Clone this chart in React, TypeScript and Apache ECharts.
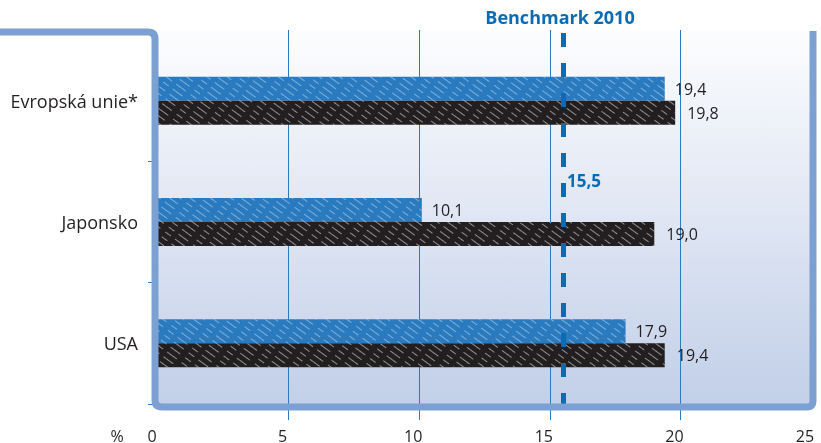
import React, { useEffect, useRef } from "react";
import * as echarts from "echarts";

const CATEGORIES = ["Evropská unie*", "Japonsko", "USA"];
const SERIES_BLUE = [19.4, 10.1, 17.9];
const SERIES_BLACK = [19.8, 19.0, 19.4];
const BENCHMARK = 15.5;
const X_MIN = 0;
const X_MAX = 25;
const X_INTERVAL = 5;

const fmt = (v: number) => v.toFixed(1).replace(".", ",");

echarts.graphic.registerShape(
  "frameShape",
  echarts.graphic.extendPath(
    "M0 32 L148 32 Q155 32 155 39 L155 400 Q155 407 162 407 L807 407 Q813 407 813 401 L813 31",
    {}
  )
);

const FONT = "'Open Sans', 'Noto Sans', sans-serif";
const TEXT = "#231f20";
const BLUE = "#2a7abf";
const DARK_BLUE = "#0a6cb5";

export default function App() {
  const ref = useRef<HTMLDivElement>(null);
  useEffect(() => {
    if (!ref.current) return;
    document.body.style.margin = "0";
    const chart = echarts.init(ref.current, null, { renderer: "svg" });
    const hatch = (color: string) => ({
      symbol: "rect",
      symbolSize: 1,
      color,
      dashArrayX: [[7, 5, 12, 6]],
      dashArrayY: [1, 5],
      rotation: Math.PI / 5,
    });
    chart.setOption({
      animation: false,
      textStyle: { fontFamily: FONT },
      grid: [
        { left: 158, right: 10, top: 40, bottom: 39, outerBoundsMode: "none", containLabel: false },
        { left: 158, right: 10, top: 30, bottom: 23, outerBoundsMode: "none", containLabel: false },
      ],
      xAxis: [
        { type: "value", gridIndex: 0, min: X_MIN, max: X_MAX, interval: X_INTERVAL, show: false },
        {
          type: "value",
          gridIndex: 1,
          min: X_MIN,
          max: X_MAX,
          interval: X_INTERVAL,
          axisLine: { show: false },
          axisTick: { show: false },
          splitLine: {
            show: true,
            showMinLine: false,
            showMaxLine: false,
            lineStyle: { color: BLUE, width: 1 },
          },
          axisLabel: {
            fontSize: 16,
            lineHeight: 14,
            color: TEXT,
            fontFamily: FONT,
            margin: 9,
            padding: [0, 12, 0, 0],
          },
        },
      ],
      yAxis: [
        {
          type: "category",
          gridIndex: 0,
          inverse: true,
          data: CATEGORIES,
          axisLine: { show: false },
          axisTick: {
            show: true,
            length: 10,
            interval: (i: number) => i > 0,
            lineStyle: { color: BLUE, width: 1 },
          },
          axisLabel: { fontSize: 18, color: TEXT, fontFamily: FONT, margin: 20, interval: 0 },
        },
        { type: "value", gridIndex: 1, min: 0, max: 1, show: false },
      ],
      series: [
        {
          name: "modrá",
          type: "bar",
          xAxisIndex: 0,
          yAxisIndex: 0,
          data: SERIES_BLUE,
          barWidth: 24,
          barGap: "0%",
          itemStyle: { color: BLUE, decal: hatch("rgba(255,255,255,0.4)") },
          label: {
            show: true,
            position: "right",
            distance: 10,
            fontSize: 16,
            color: TEXT,
            fontFamily: FONT,
            formatter: (p: any) => fmt(p.value),
          },
          z: 3,
        },
        {
          name: "černá",
          type: "bar",
          xAxisIndex: 0,
          yAxisIndex: 0,
          data: SERIES_BLACK,
          barWidth: 24,
          barGap: "0%",
          itemStyle: { color: TEXT, decal: hatch("rgba(255,255,255,0.5)") },
          label: {
            show: true,
            position: "right",
            distance: 12,
            fontSize: 16,
            color: TEXT,
            fontFamily: FONT,
            formatter: (p: any) => fmt(p.value),
          },
          z: 3,
        },
        {
          name: "benchmark",
          type: "scatter",
          xAxisIndex: 1,
          yAxisIndex: 1,
          data: [[BENCHMARK, 0.5]],
          symbolSize: 0,
          silent: true,
          z: 5,
          markLine: {
            silent: true,
            symbol: "none",
            label: { show: false },
            lineStyle: { type: [14, 16], width: 5, color: DARK_BLUE },
            data: [[{ coord: [BENCHMARK, 0.992] }, { coord: [BENCHMARK, 0.038] }]],
          },
        },
      ],
      graphic: [
        {
          type: "rect",
          z: -10,
          shape: { x: 155, y: 30, width: 658, height: 377 },
          style: {
            fill: new echarts.graphic.LinearGradient(0, 0, 0, 1, [
              { offset: 0, color: "#fcfdfe" },
              { offset: 0.45, color: "#e2e8f4" },
              { offset: 1, color: "#c1cfe8" },
            ]),
          },
        },
        {
          type: "frameShape",
          z: 100,
          x: 0,
          y: 0,
          style: { fill: "none", stroke: "#7da0d3", lineWidth: 7 },
        },
        {
          type: "text",
          z: 101,
          x: 560,
          y: 17,
          style: {
            text: "Benchmark 2010",
            fill: DARK_BLUE,
            font: `bold 18px ${FONT}`,
            textAlign: "center",
            textVerticalAlign: "middle",
          },
        },
        {
          type: "text",
          z: 101,
          x: 567,
          y: 180,
          style: {
            text: fmt(BENCHMARK),
            fill: DARK_BLUE,
            font: `bold 17px ${FONT}`,
            textAlign: "left",
            textVerticalAlign: "middle",
          },
        },
        {
          type: "text",
          z: 101,
          x: 117,
          y: 436,
          style: {
            text: "%",
            fill: TEXT,
            font: `16px ${FONT}`,
            lineHeight: 14,
            textAlign: "center",
            textVerticalAlign: "middle",
          },
        },
      ],
    });
    return () => chart.dispose();
  }, []);
  return (
    <div
      ref={ref}
      style={{ position: "fixed", left: 0, top: 0, width: 821, height: 443 }}
    />
  );
}
